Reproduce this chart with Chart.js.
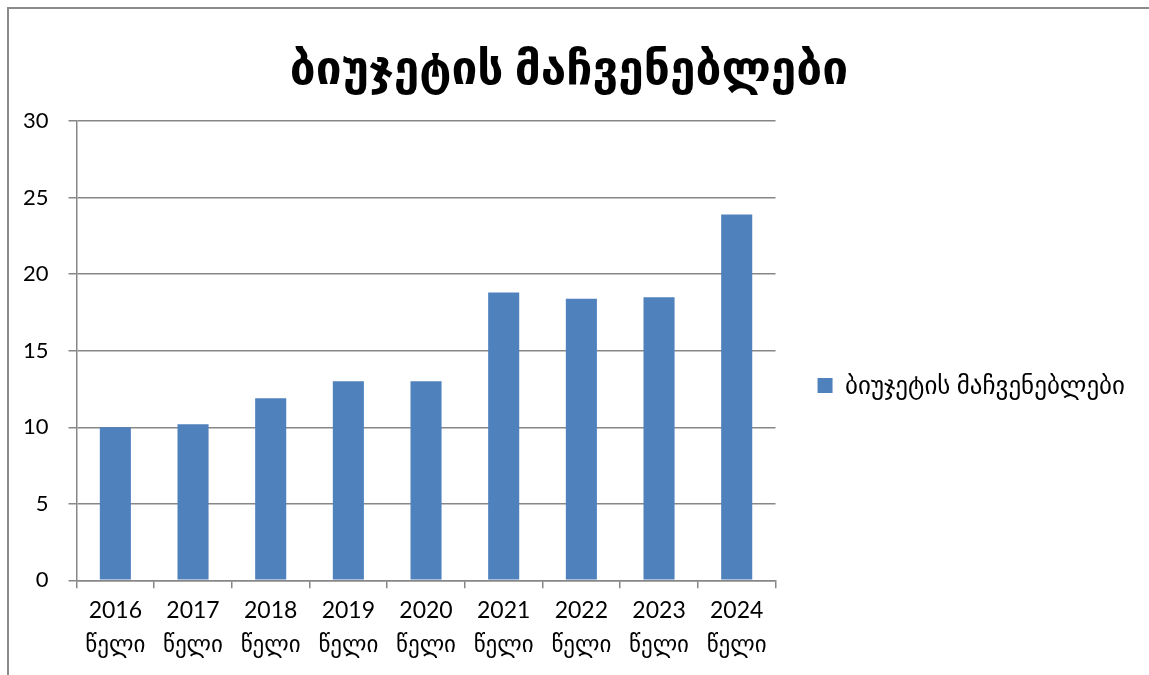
<!DOCTYPE html>
<html>
<head>
<meta charset="utf-8">
<script src="https://cdn.jsdelivr.net/npm/chart.js@4"></script>
<style>
html,body{margin:0;padding:0;background:#fff;}
#wrap{position:relative;width:1149px;height:675px;}
</style>
</head>
<body>
<div id="wrap"><canvas id="c"></canvas></div>
<script>
const categories = [["2016","წელი"],["2017","წელი"],["2018","წელი"],["2019","წელი"],["2020","წელი"],["2021","წელი"],["2022","წელი"],["2023","წელი"],["2024","წელი"]];
const seriesName = "ბიუჯეტის მაჩვენებლები";
const values = [10, 10.2, 11.9, 13, 13, 18.8, 18.4, 18.5, 23.9];
const yTicks = [0, 5, 10, 15, 20, 25, 30];
const titleText = "ბიუჯეტის მაჩვენებლები";

const FONT = "Lato, 'DejaVu Sans', sans-serif";
const GRID = '#878787';

const frame = {
  id: 'frame',
  beforeDraw(chart) {
    const ctx = chart.ctx;
    ctx.save();
    ctx.fillStyle = '#fff';
    ctx.fillRect(0, 0, chart.width, chart.height);
    ctx.strokeStyle = '#8a8a8a';
    ctx.lineWidth = 2;
    ctx.beginPath();
    ctx.moveTo(8, chart.height + 5);
    ctx.lineTo(8, 8);
    ctx.lineTo(chart.width + 5, 8);
    ctx.stroke();
    ctx.restore();
  }
};

new Chart(document.getElementById('c'), {
  type: 'bar',
  data: {
    labels: categories,
    datasets: [{
      label: seriesName,
      data: values,
      backgroundColor: '#4F81BD',
      borderWidth: 0,
      categoryPercentage: 1,
      barPercentage: 0.4
    }]
  },
  options: {
    responsive: true,
    maintainAspectRatio: false,
    animation: false,
    layout: { padding: { left: 3, right: 14, top: 42, bottom: 8 } },
    plugins: {
      title: {
        display: true,
        text: titleText,
        color: '#000',
        font: { family: FONT, size: 46, weight: 'bold' },
        padding: { top: 0, bottom: 24 }
      },
      legend: {
        position: 'right',
        maxWidth: 400,
        title: {
          display: true,
          text: ' ',
          font: { size: 10 },
          padding: 25
        },
        labels: {
          color: '#000',
          font: { family: FONT, size: 25 },
          boxWidth: 15,
          boxHeight: 15,
          padding: 42
        }
      },
      tooltip: { enabled: false }
    },
    scales: {
      x: {
        grid: {
          offset: true,
          drawOnChartArea: false,
          drawTicks: true,
          tickLength: 8,
          color: GRID,
          lineWidth: 1.5
        },
        border: { color: GRID, width: 1.5 },
        ticks: {
          color: '#000',
          font: { family: FONT, size: 23, lineHeight: 1.45 },
          maxRotation: 0,
          autoSkip: false,
          padding: 6
        }
      },
      y: {
        min: 0,
        max: 30,
        afterBuildTicks(axis) { axis.ticks = yTicks.map(v => ({ value: v })); },
        grid: {
          color: GRID,
          lineWidth: 1.5,
          tickLength: 8
        },
        border: { color: GRID, width: 1.5 },
        ticks: {
          color: '#000',
          font: { family: FONT, size: 22 },
          padding: 20
        }
      }
    }
  },
  plugins: [frame]
});
</script>
</body>
</html>
